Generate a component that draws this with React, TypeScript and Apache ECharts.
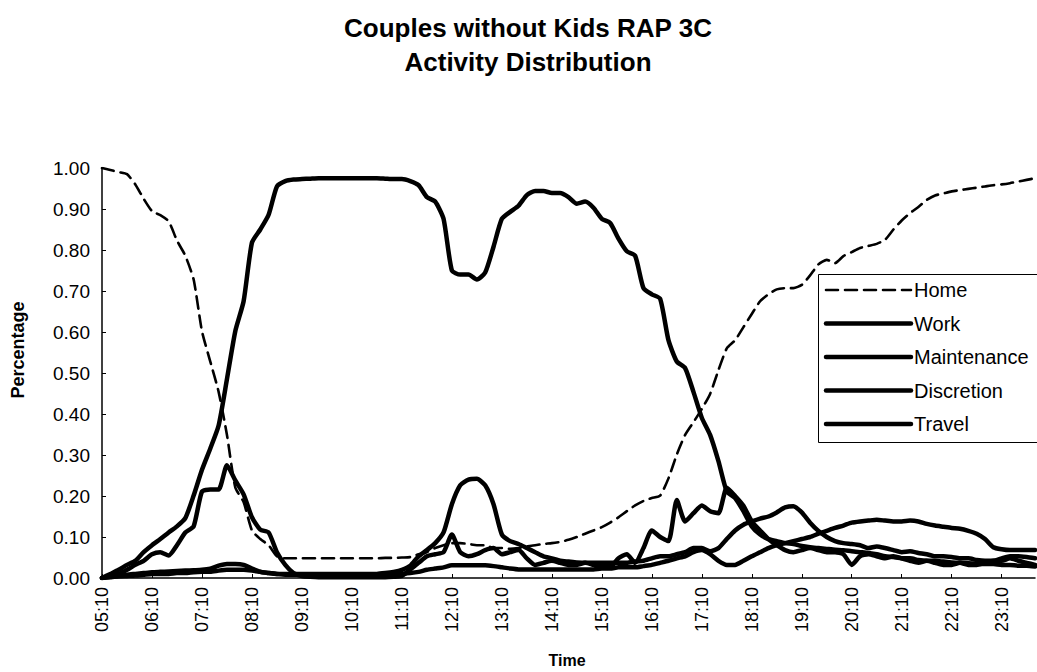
import React, { useEffect, useRef } from "react";
import * as echarts from "echarts";

// Time categories every 10 minutes from 05:10 to 23:50
const times: string[] = [];
for (let t = 5 * 60 + 10; t <= 23 * 60 + 50; t += 10) {
  const h = Math.floor(t / 60);
  const m = t % 60;
  times.push(`${String(h).padStart(2, "0")}:${String(m).padStart(2, "0")}`);
}

const seriesNames = ["Home", "Work", "Maintenance", "Discretion", "Travel"];

const home = [
  1.0, 0.995, 0.99, 0.985, 0.96, 0.925,
  0.895, 0.885, 0.87, 0.823, 0.786, 0.728,
  0.602, 0.528, 0.454, 0.349, 0.221, 0.185,
  0.116, 0.095, 0.08, 0.053, 0.048, 0.048,
  0.048, 0.048, 0.048, 0.048, 0.048, 0.048,
  0.048, 0.048, 0.048, 0.048, 0.049, 0.049,
  0.05, 0.051, 0.058, 0.063, 0.073, 0.08,
  0.085, 0.085, 0.083, 0.08, 0.08, 0.073,
  0.073, 0.071, 0.073, 0.077, 0.08, 0.083,
  0.085, 0.088, 0.093, 0.1, 0.108, 0.116,
  0.124, 0.135, 0.148, 0.163, 0.177, 0.188,
  0.195, 0.201, 0.243, 0.301, 0.349, 0.38,
  0.412, 0.449, 0.507, 0.56, 0.58, 0.612,
  0.644, 0.675, 0.692, 0.704, 0.707, 0.707,
  0.715, 0.738, 0.765, 0.776, 0.768, 0.785,
  0.795, 0.805, 0.81, 0.815, 0.825, 0.85,
  0.872, 0.89, 0.905, 0.922, 0.933, 0.938,
  0.943, 0.946, 0.949, 0.952, 0.955, 0.958,
  0.96, 0.963, 0.967, 0.971, 0.975,
];

const work = [
  0.0, 0.01, 0.02, 0.032, 0.042, 0.063,
  0.08, 0.095, 0.111, 0.126, 0.146, 0.201,
  0.264, 0.316, 0.372, 0.485, 0.602, 0.675,
  0.818, 0.85, 0.886, 0.955, 0.968, 0.972,
  0.973, 0.974, 0.975, 0.975, 0.975, 0.975,
  0.975, 0.975, 0.975, 0.975, 0.974, 0.973,
  0.973, 0.968, 0.958, 0.929, 0.918, 0.876,
  0.75, 0.74, 0.74, 0.728, 0.745, 0.808,
  0.876, 0.893, 0.908, 0.934, 0.944, 0.944,
  0.939, 0.939, 0.929, 0.913, 0.918, 0.903,
  0.876, 0.866, 0.828, 0.797, 0.786, 0.707,
  0.692, 0.681, 0.58, 0.528, 0.512, 0.454,
  0.391, 0.349, 0.285, 0.211, 0.195, 0.163,
  0.126, 0.106, 0.095, 0.09, 0.085, 0.083,
  0.078, 0.075, 0.073, 0.071, 0.069, 0.068,
  0.065, 0.063, 0.061, 0.058, 0.053, 0.051,
  0.048, 0.048, 0.044, 0.042, 0.042, 0.04,
  0.038, 0.037, 0.036, 0.035, 0.034, 0.034,
  0.032, 0.032, 0.03, 0.03, 0.028,
];

const maintenance = [
  0.0, 0.003, 0.005, 0.008, 0.01, 0.012,
  0.014, 0.015, 0.016, 0.017, 0.018, 0.019,
  0.02, 0.023, 0.03, 0.034, 0.034, 0.032,
  0.023, 0.015, 0.012, 0.01, 0.01, 0.01,
  0.01, 0.01, 0.01, 0.01, 0.01, 0.01,
  0.01, 0.01, 0.01, 0.01, 0.012, 0.015,
  0.02, 0.03, 0.053, 0.068, 0.085, 0.111,
  0.18, 0.226, 0.24, 0.242, 0.226, 0.18,
  0.106, 0.09, 0.083, 0.073, 0.063, 0.053,
  0.048, 0.042, 0.04, 0.038, 0.037, 0.037,
  0.037, 0.037, 0.037, 0.037, 0.04, 0.042,
  0.048, 0.053, 0.053, 0.058, 0.063, 0.073,
  0.073, 0.065, 0.073, 0.095, 0.116, 0.13,
  0.138, 0.145, 0.15, 0.16, 0.172, 0.175,
  0.16, 0.135, 0.115, 0.1, 0.09, 0.085,
  0.083, 0.08, 0.073, 0.077, 0.073, 0.068,
  0.063, 0.065, 0.061, 0.058, 0.053, 0.053,
  0.051, 0.048, 0.048, 0.044, 0.042, 0.042,
  0.048, 0.053, 0.053, 0.051, 0.048,
];

const discretion = [
  0.0, 0.002, 0.004, 0.005, 0.006, 0.008,
  0.01, 0.01, 0.01, 0.012, 0.012, 0.014,
  0.015, 0.015, 0.018, 0.02, 0.02, 0.02,
  0.018, 0.015, 0.012, 0.01, 0.008, 0.008,
  0.008, 0.008, 0.008, 0.008, 0.008, 0.008,
  0.008, 0.008, 0.008, 0.008, 0.008, 0.01,
  0.01, 0.012, 0.015, 0.02, 0.023, 0.026,
  0.031, 0.031, 0.031, 0.031, 0.031, 0.029,
  0.026, 0.023, 0.021, 0.021, 0.021, 0.021,
  0.021, 0.021, 0.021, 0.021, 0.021, 0.021,
  0.023, 0.023, 0.026, 0.026, 0.026, 0.029,
  0.032, 0.037, 0.042, 0.048, 0.053, 0.063,
  0.068, 0.058, 0.042, 0.032, 0.032, 0.042,
  0.053, 0.063, 0.073, 0.08, 0.085, 0.09,
  0.095, 0.1, 0.108, 0.115, 0.122, 0.128,
  0.135, 0.138, 0.14, 0.142, 0.14, 0.138,
  0.138, 0.14, 0.138, 0.132, 0.128, 0.125,
  0.122, 0.12, 0.115, 0.108, 0.095, 0.075,
  0.07, 0.068, 0.068, 0.068, 0.068,
];

const travel = [
  0.0, 0.005, 0.01, 0.02, 0.032, 0.042,
  0.058, 0.063, 0.055, 0.08, 0.111, 0.126,
  0.211, 0.216, 0.216, 0.275, 0.238, 0.204,
  0.148, 0.118, 0.111, 0.063, 0.032, 0.012,
  0.005, 0.003, 0.002, 0.002, 0.002, 0.002,
  0.002, 0.002, 0.002, 0.002, 0.002, 0.003,
  0.005, 0.021, 0.037, 0.053, 0.058, 0.063,
  0.106, 0.063, 0.053, 0.058, 0.068, 0.073,
  0.058, 0.063, 0.068, 0.048, 0.032, 0.037,
  0.042, 0.037, 0.032, 0.032, 0.037, 0.032,
  0.027, 0.027, 0.048, 0.058, 0.037, 0.073,
  0.116, 0.1, 0.09, 0.19, 0.138, 0.158,
  0.177, 0.163, 0.158, 0.22, 0.2, 0.176,
  0.138, 0.116, 0.095, 0.08, 0.068, 0.063,
  0.068, 0.073, 0.068, 0.063, 0.063, 0.058,
  0.032, 0.053, 0.058, 0.053, 0.048, 0.053,
  0.048, 0.042, 0.037, 0.042, 0.037, 0.032,
  0.032, 0.037, 0.032, 0.032, 0.037, 0.042,
  0.042, 0.048, 0.042, 0.037, 0.032,
];

const titleLines = ["Couples without Kids RAP 3C", "Activity Distribution"];
const yAxisTitle = "Percentage";
const xAxisTitle = "Time";

const FONT = "'Liberation Sans', Arial, sans-serif";

export default function App() {
  const ref = useRef<HTMLDivElement>(null);

  useEffect(() => {
    if (!ref.current) return;
    const chart = echarts.init(ref.current, undefined, { renderer: "svg" });

    const values = [home, work, maintenance, discretion, travel];
    const isHome = (i: number) => i === 0;

    const series = seriesNames.map((name, idx) => ({
      name,
      type: "line",
      data: values[idx],
      symbol: "none",
      showSymbol: false,
      smooth: 0.2,
      z: isHome(idx) ? 3 : 2,
      lineStyle: {
        color: "#000",
        width: isHome(idx) ? 2.6 : 4.5,
        type: isHome(idx) ? [12, 7] : "solid",
        cap: "round",
        join: "round",
      },
      itemStyle: { color: "#000" },
      emphasis: { disabled: true },
    }));

    // Manual legend (box clipped by the right edge like the reference)
    const legendTop = 290;
    const legendStep = 33.5;
    const legendGraphics: any[] = [
      {
        type: "rect",
        z: 50,
        shape: { x: 818.5, y: 274.5, width: 240, height: 168 },
        style: { fill: "#fff", stroke: "#000", lineWidth: 1 },
      },
    ];
    seriesNames.forEach((name, i) => {
      const y = legendTop + i * legendStep;
      legendGraphics.push({
        type: "line",
        z: 51,
        shape: { x1: 826, y1: y, x2: 911, y2: y },
        style: {
          stroke: "#000",
          lineWidth: isHome(i) ? 2.6 : 4.5,
          lineDash: isHome(i) ? [12, 7] : null,
          lineCap: "round",
        },
      });
      legendGraphics.push({
        type: "text",
        z: 51,
        x: 914,
        y,
        style: {
          text: name,
          font: `20px ${FONT}`,
          fill: "#000",
          textAlign: "left",
          textVerticalAlign: "middle",
        },
      });
    });

    chart.setOption({
      animation: false,
      backgroundColor: "#fff",
      textStyle: { fontFamily: FONT, color: "#000" },
      grid: { left: 102, right: 2, top: 168, bottom: 94, containLabel: false },
      xAxis: {
        type: "category",
        data: times,
        boundaryGap: false,
        axisLine: { lineStyle: { color: "#000", width: 1.5 } },
        axisTick: { inside: true, length: 4, interval: 5, lineStyle: { color: "#000" } },
        axisLabel: {
          interval: 5,
          rotate: 90,
          margin: 9,
          fontSize: 18,
          color: "#000",
          fontFamily: FONT,
        },
        splitLine: { show: false },
      },
      yAxis: {
        type: "value",
        min: 0,
        max: 1,
        interval: 0.1,
        axisLine: { show: true, lineStyle: { color: "#000", width: 1.5 } },
        axisTick: { show: true, inside: true, length: 4, lineStyle: { color: "#000" } },
        axisLabel: {
          formatter: (v: number) => v.toFixed(2),
          fontSize: 19,
          margin: 12,
          color: "#000",
          fontFamily: FONT,
        },
        splitLine: { show: false },
      },
      graphic: [
        ...legendGraphics,
        {
          type: "text",
          x: 528,
          y: 28,
          style: {
            text: titleLines[0],
            font: `bold 26px ${FONT}`,
            fill: "#000",
            textAlign: "center",
            textVerticalAlign: "middle",
          },
        },
        {
          type: "text",
          x: 528,
          y: 62,
          style: {
            text: titleLines[1],
            font: `bold 26px ${FONT}`,
            fill: "#000",
            textAlign: "center",
            textVerticalAlign: "middle",
          },
        },
        {
          type: "text",
          x: 18,
          y: 350,
          rotation: Math.PI / 2,
          style: {
            text: yAxisTitle,
            font: `bold 18px ${FONT}`,
            fill: "#000",
            textAlign: "center",
            textVerticalAlign: "middle",
          },
        },
        {
          type: "text",
          x: 567,
          y: 660,
          style: {
            text: xAxisTitle,
            font: `bold 16px ${FONT}`,
            fill: "#000",
            textAlign: "center",
            textVerticalAlign: "middle",
          },
        },
      ],
      series,
    });

    return () => {
      chart.dispose();
    };
  }, []);

  return (
    <div
      ref={ref}
      style={{ position: "fixed", left: 0, top: 0, width: 1037, height: 672, background: "#fff" }}
    />
  );
}
